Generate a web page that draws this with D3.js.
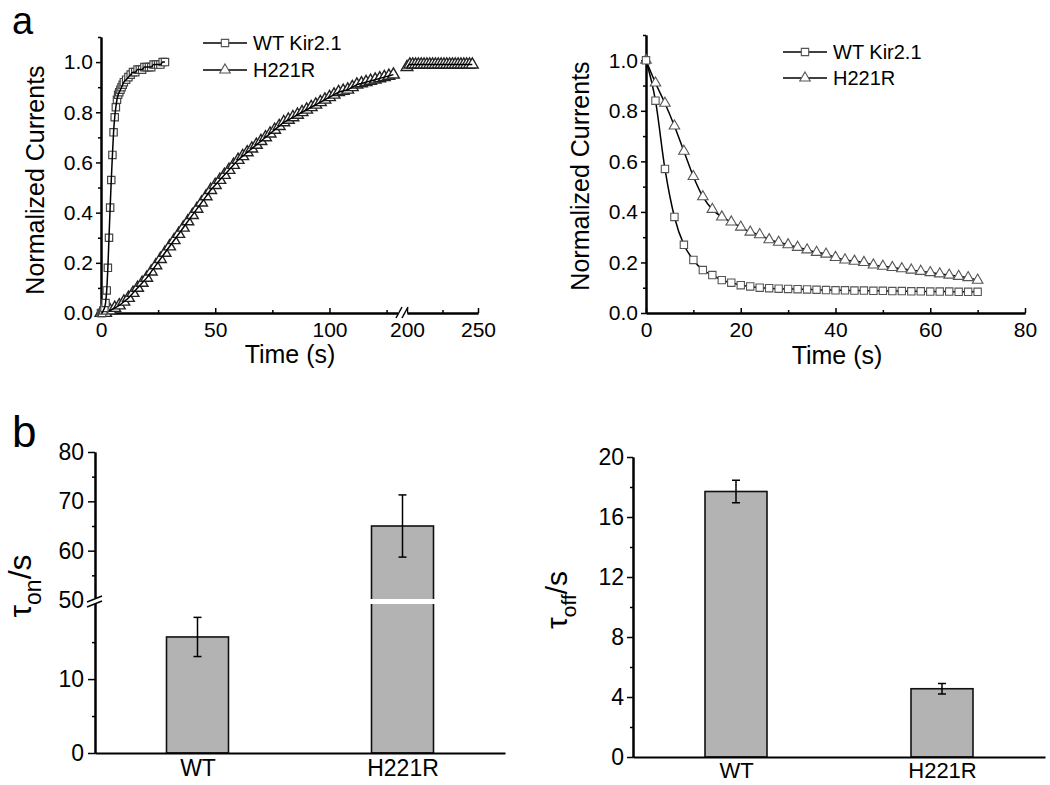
<!DOCTYPE html>
<html lang="en">
<head>
<meta charset="UTF-8" />
<title>Kir2.1 / H221R currents and time constants</title>
<script src="https://d3js.org/d3.v7.min.js"></script>
<style>
  body { margin: 0; background: #fff; }
  svg { display: block; background: #fff; font-family: "Liberation Sans", Arial, sans-serif; }
  .axis path, .axis line { stroke: #000; }
  .axis path { stroke-width: 2px; }
  .axis line { stroke-width: 1.5px; }
  .axis text { fill: #000; }
</style>
</head>
<body>
<svg width="1050" height="785"></svg>
<script>
// ---------- data ----------
// panel a, left: activation (WT fast, H221R slow, split time axis)
const wtOnT = [0,0.5,1,1.5,2,2.5,3,3.5,4,4.5,5,5.5,6,6.5,7,7.5,8,8.5,9,9.5,10,
  11,12,13,14,15,16,17,18,19,20,21,22,23,24,25,26,27,28];
const wtOnV = [0,0,0.01,0.02,0.04,0.09,0.18,0.30,0.42,0.53,0.63,0.72,0.78,0.82,0.85,0.87,0.88,0.89,0.90,0.91,0.92,
  0.93,0.94,0.95,0.96,0.96,0.97,0.97,0.97,0.98,0.98,0.98,0.98,0.99,0.99,0.99,0.99,1.0,1.0];

const mutOnT = [0,2,4,6,8,10,12,14,16,18,20,22,24,26,28,30,32,34,36,38,40,42,44,46,48,50,
  52,54,56,58,60,62,64,66,68,70,72,74,76,78,80,82,84,86,88,90,92,94,96,98,100,
  102,104,106,108,110,112,114,116,118,120,122,124,126,128];
const mutOnV = [0,0,0.01,0.02,0.03,0.045,0.06,0.08,0.10,0.12,0.14,0.165,0.19,0.215,0.24,0.265,0.29,0.315,0.34,0.365,0.39,0.415,0.44,0.465,0.49,0.51,
  0.53,0.55,0.57,0.59,0.61,0.625,0.64,0.655,0.67,0.685,0.70,0.715,0.73,0.745,0.76,0.77,0.78,0.79,0.80,0.81,0.82,0.83,0.84,0.85,0.86,
  0.87,0.88,0.885,0.89,0.90,0.91,0.915,0.92,0.925,0.93,0.935,0.94,0.945,0.95];
const mutOnLateT = [200,202,204,206,208,210,212,214,216,218,220,222,224,226,228,230,232,234,236,238,240,242,244,246];
const mutOnLateV = [0.98,0.99,0.99,0.99,0.99,0.99,0.99,0.99,0.99,0.99,0.99,0.99,0.99,0.99,0.99,0.99,0.99,0.99,0.99,0.99,0.99,0.99,0.99,0.99];

// panel a, right: deactivation
const offT = [0,2,4,6,8,10,12,14,16,18,20,22,24,26,28,30,32,34,36,38,40,42,44,46,48,50,52,54,56,58,60,62,64,66,68,70];
const wtOffV = [1.0,0.84,0.57,0.38,0.27,0.21,0.17,0.15,0.13,0.12,0.11,0.105,0.10,0.098,0.096,0.095,0.094,0.093,
  0.092,0.091,0.09,0.09,0.089,0.089,0.088,0.088,0.087,0.087,0.086,0.086,0.085,0.085,0.085,0.084,0.084,0.084];
const mutOffV = [1.0,0.91,0.83,0.74,0.64,0.54,0.46,0.41,0.38,0.36,0.34,0.32,0.31,0.29,0.28,0.27,0.26,0.25,
  0.24,0.233,0.22,0.21,0.205,0.20,0.19,0.185,0.18,0.175,0.17,0.165,0.16,0.155,0.15,0.145,0.14,0.13];

// panel b: time constants
const groups = ["WT", "H221R"];
const tauOn = [15.7, 65.0];
const tauOnErr = [2.65, 6.3];
const tauOff = [17.7, 4.55];
const tauOffErr = [0.75, 0.35];

const seriesNames = ["WT Kir2.1", "H221R"];

// ---------- helpers ----------
const svg = d3.select("svg");
const zip = (a, b) => a.map((v, i) => [v, b[i]]);
const sq = d3.symbol(d3.symbolSquare, 54);
const tri = d3.symbol(d3.symbolTriangle, 48);
const triBig = d3.symbol(d3.symbolTriangle, 60);

function leftAxis(scale, major, minor, fmt, size, pad, fs) {
  svg.append("g").attr("class", "axis").attr("transform", `translate(${scale.ax},0)`)
    .call(d3.axisLeft(scale).tickValues(minor).tickSize(3).tickSizeOuter(0).tickFormat(""));
  svg.append("g").attr("class", "axis").attr("transform", `translate(${scale.ax},0)`)
    .call(d3.axisLeft(scale).tickValues(major).tickSize(size).tickPadding(pad).tickSizeOuter(0).tickFormat(fmt))
    .attr("font-family", null).attr("font-size", fs);
}
function bottomAxis(scale, y, major, minor, fmt, fs) {
  svg.append("g").attr("class", "axis").attr("transform", `translate(0,${y})`)
    .call(d3.axisBottom(scale).tickValues(minor).tickSizeInner(-3).tickSizeOuter(0).tickFormat(""));
  svg.append("g").attr("class", "axis").attr("transform", `translate(0,${y})`)
    .call(d3.axisBottom(scale).tickValues(major).tickSizeInner(-5).tickSizeOuter(0).tickPadding(9).tickFormat(fmt))
    .attr("font-family", null).attr("font-size", fs);
}
function markers(pts, x, y, sym, stroke, sw) {
  svg.append("g").selectAll("path").data(pts).join("path")
    .attr("d", sym)
    .attr("transform", d => `translate(${x(d[0])},${y(d[1])})`)
    .attr("fill", "#fff").attr("stroke", stroke || "#555").attr("stroke-width", sw || 1.1);
}
function curve(pts, x, y) {
  svg.append("path").datum(pts)
    .attr("d", d3.line().x(d => x(d[0])).y(d => y(d[1])).curve(d3.curveMonotoneX))
    .attr("fill", "none").attr("stroke", "#000").attr("stroke-width", 1.5);
}
function legend(x0, y0, dy) {
  seriesNames.forEach((name, i) => {
    const y = y0 + i * dy;
    svg.append("line").attr("x1", x0).attr("x2", x0 + 44).attr("y1", y).attr("y2", y)
      .attr("stroke", "#000").attr("stroke-width", 1.5);
    svg.append("path").attr("d", i === 0 ? sq : tri).attr("transform", `translate(${x0 + 22},${y})`)
      .attr("fill", "#fff").attr("stroke", "#555").attr("stroke-width", 1.1);
    svg.append("text").attr("x", x0 + 50).attr("y", y + 7).attr("font-size", 20).text(name);
  });
}
function vTitle(x, y, txt, fs) {
  svg.append("text").attr("transform", `translate(${x},${y}) rotate(-90)`)
    .attr("text-anchor", "middle").attr("font-size", fs).text(txt);
}
function seg(x1, y1, x2, y2) {
  svg.append("line").attr("x1", x1).attr("y1", y1).attr("x2", x2).attr("y2", y2)
    .attr("stroke", "#000").attr("stroke-width", 1.5);
}

// ---------- panel a, left ----------
const xA1 = d3.scaleLinear().domain([0, 130]).range([101, 398]);
const xA2 = d3.scaleLinear().domain([200, 250]).range([407, 478]);
const yA = d3.scaleLinear().domain([0, 1.1]).range([313, 37]);
yA.ax = 101;
const fmt1 = d3.format(".1f");

leftAxis(yA, [0, 0.2, 0.4, 0.6, 0.8, 1.0], [0.1, 0.3, 0.5, 0.7, 0.9, 1.1], fmt1, 5, 3, 21);
bottomAxis(xA1, 313, [0, 50, 100], [25, 75, 125], d3.format("d"), 21);
bottomAxis(xA2, 313, [200, 250], [225], d3.format("d"), 21);
svg.append("rect").attr("x", 398).attr("y", 306).attr("width", 9).attr("height", 12).attr("fill", "#fff");
seg(396, 318, 402, 307);
seg(402, 318, 408, 307);

markers(zip(mutOnT, mutOnV), xA1, yA, triBig, "#222", 1.4);
markers(zip(mutOnLateT, mutOnLateV), xA2, yA, triBig, "#222", 1.4);
curve(zip(mutOnT, mutOnV), xA1, yA);
curve(zip(mutOnLateT, mutOnLateV), xA2, yA);
markers(zip(wtOnT, wtOnV), xA1, yA, sq, "#444", 1.2);
curve(zip(wtOnT, wtOnV), xA1, yA);

legend(203, 43, 27);
vTitle(44, 180, "Normalized Currents", 25);
svg.append("text").attr("x", 290).attr("y", 363).attr("text-anchor", "middle").attr("font-size", 25).text("Time (s)");

// ---------- panel a, right ----------
const xB = d3.scaleLinear().domain([0, 80]).range([646, 1025]);
const yB = d3.scaleLinear().domain([0, 1.1]).range([313, 35]);
yB.ax = 646;
leftAxis(yB, [0, 0.2, 0.4, 0.6, 0.8, 1.0], [0.1, 0.3, 0.5, 0.7, 0.9, 1.1], fmt1, 5, 3, 21);
bottomAxis(xB, 313, [0, 20, 40, 60, 80], [10, 30, 50, 70], d3.format("d"), 21);

curve(zip(offT, mutOffV), xB, yB);
curve(zip(offT, wtOffV), xB, yB);
markers(zip(offT, mutOffV), xB, yB, tri);
markers(zip(offT, wtOffV), xB, yB, sq);

legend(783, 52, 26);
vTitle(589, 176, "Normalized Currents", 25);
svg.append("text").attr("x", 837).attr("y", 364).attr("text-anchor", "middle").attr("font-size", 25).text("Time (s)");

// ---------- panel b, left (broken axis) ----------
const yLo = d3.scaleLinear().domain([0, 20.7]).range([753, 600]);
const yHi = d3.scaleLinear().domain([50, 80]).range([600, 452]);
yLo.ax = 95; yHi.ax = 95;
const yOn = v => v <= 20.7 ? yLo(v) : yHi(v);
const xC = d3.scalePoint().domain(groups).range([95, 505]).padding(0.5);
const barW = 62;

svg.append("g").selectAll("rect").data(groups).join("rect")
  .attr("x", d => xC(d) - barW / 2).attr("width", barW)
  .attr("y", (d, i) => yOn(tauOn[i])).attr("height", (d, i) => 753 - yOn(tauOn[i]))
  .attr("fill", "#b3b3b3").attr("stroke", "#111").attr("stroke-width", 1.6);
groups.forEach((g, i) => {
  if (tauOn[i] > 20.7) {
    svg.append("rect").attr("x", xC(g) - barW / 2 - 2).attr("width", barW + 4)
      .attr("y", 599).attr("height", 5).attr("fill", "#fff");
  }
});
function errBars(xs, vals, errs, yf, cap) {
  groups.forEach((g, i) => {
    const x = xs(g), t = yf(vals[i] + errs[i]), b = yf(vals[i] - errs[i]);
    seg(x, t, x, b);
    seg(x - cap, t, x + cap, t);
    seg(x - cap, b, x + cap, b);
  });
}
errBars(xC, tauOn, tauOnErr, yOn, 4);

leftAxis(yLo, [0, 10], [5, 15], d3.format("d"), 7, 4, 23);
leftAxis(yHi, [50, 60, 70, 80], [55, 65, 75], d3.format("d"), 7, 4, 23);
svg.append("g").attr("class", "axis").attr("transform", "translate(0,753)")
  .call(d3.axisBottom(xC).tickSize(0).tickPadding(7).tickSizeOuter(0))
  .attr("font-family", null).attr("font-size", 23);
svg.append("rect").attr("x", 86).attr("y", 598).attr("width", 17).attr("height", 6).attr("fill", "#fff");
seg(87, 602, 102, 596);
seg(87, 607, 102, 601);

svg.append("text").attr("transform", "translate(31,586) rotate(-90)").attr("text-anchor", "middle")
  .attr("font-size", 32)
  .call(t => {
    t.append("tspan").text("τ");
    t.append("tspan").attr("font-size", 23).attr("dy", 10).text("on");
    t.append("tspan").attr("dy", -10).text("/s");
  });

// ---------- panel b, right ----------
const yD = d3.scaleLinear().domain([0, 20]).range([757, 457]);
yD.ax = 633;
const xD = d3.scalePoint().domain(groups).range([633, 1045]).padding(0.5);

svg.append("g").selectAll("rect").data(groups).join("rect")
  .attr("x", d => xD(d) - barW / 2).attr("width", barW)
  .attr("y", (d, i) => yD(tauOff[i])).attr("height", (d, i) => 757 - yD(tauOff[i]))
  .attr("fill", "#b3b3b3").attr("stroke", "#111").attr("stroke-width", 1.6);
errBars(xD, tauOff, tauOffErr, yD, 4);

leftAxis(yD, [0, 4, 8, 12, 16, 20], [2, 6, 10, 14, 18], d3.format("d"), 6, 3, 23);
svg.append("g").attr("class", "axis").attr("transform", "translate(0,757)")
  .call(d3.axisBottom(xD).tickSize(0).tickPadding(5).tickSizeOuter(0))
  .attr("font-family", null).attr("font-size", 22);

svg.append("text").attr("transform", "translate(567,600) rotate(-90)").attr("text-anchor", "middle")
  .attr("font-size", 30)
  .call(t => {
    t.append("tspan").text("τ");
    t.append("tspan").attr("font-size", 21).attr("dy", 9).text("off");
    t.append("tspan").attr("dy", -9).text("/s");
  });

// ---------- panel letters ----------
svg.append("text").attr("x", 12).attr("y", 34).attr("font-size", 38).text("a");
svg.append("text").attr("x", 12).attr("y", 447).attr("font-size", 44).text("b");
</script>
</body>
</html>
